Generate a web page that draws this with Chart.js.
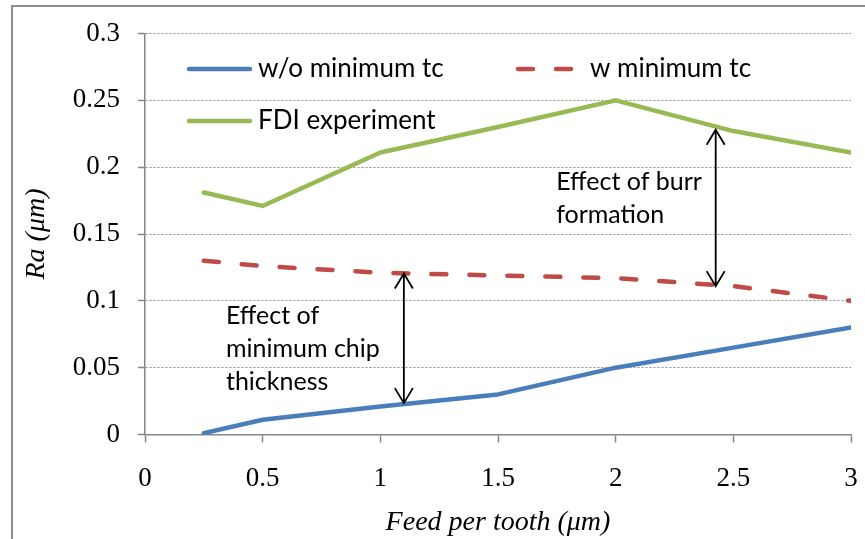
<!DOCTYPE html>
<html>
<head>
<meta charset="utf-8">
<script src="https://cdn.jsdelivr.net/npm/chart.js@4.4.0/dist/chart.umd.min.js"></script>
<style>
  html, body { margin: 0; padding: 0; background: #fff; }
  #wrap { width: 865px; height: 539px; position: relative; }
</style>
</head>
<body>
<div id="wrap"><canvas id="ra-chart" width="865" height="539"></canvas></div>
<script>
// Surface roughness Ra vs feed per tooth

const feedPerTooth = [0.25, 0.5, 1, 1.5, 2, 2.5, 3];
const raWithoutTc  = [0.001, 0.011, 0.021, 0.030, 0.050, 0.065, 0.080];
const raWithTc     = [0.130, 0.126, 0.121, 0.119, 0.117, 0.111, 0.100];
const raFdi        = [0.181, 0.171, 0.211, 0.230, 0.250, 0.227, 0.211];

const xTickValues = [0, 0.5, 1, 1.5, 2, 2.5, 3];
const xTickLabels = ["0", "0.5", "1", "1.5", "2", "2.5", "3"];
const yTickValues = [0, 0.05, 0.1, 0.15, 0.2, 0.25, 0.3];
const yTickLabels = ["0", "0.05", "0.1", "0.15", "0.2", "0.25", "0.3"];

const seriesNames = ["w/o minimum tc", "w minimum tc", "FDI experiment"];

// annotation arrows (data units): x, from y, to y
const arrows = [
    { x: 1.10, y1: 0.0235, y2: 0.1205 },
    { x: 2.425, y1: 0.111, y2: 0.228 }
];
const notes = [
    { x: 0.344, y: 0.0885, lines: ["Effect of", "minimum chip", "thickness"] },
    { x: 1.747, y: 0.189, lines: ["Effect of burr", "formation"] }
];

const SERIF = "'Liberation Serif', 'Times New Roman', serif";
const SANS = "Lato, 'Open Sans', sans-serif";
const AXIS_GREY = "#878787";

const data = (ys) => feedPerTooth.map((x, i) => ({ x, y: ys[i] }));

const datasets = [
    { label: seriesNames[0], data: data(raWithoutTc), borderColor: "#4a7ebb", borderWidth: 4.5 },
    { label: seriesNames[1], data: data(raWithTc), borderColor: "#be4b48", borderWidth: 4.5, borderDash: [15, 23] },
    { label: seriesNames[2], data: data(raFdi), borderColor: "#98b954", borderWidth: 4.5 }
].map(ds => ({ ...ds, pointRadius: 0, tension: 0, fill: false, borderCapStyle: "round", borderJoinStyle: "round" }));

// frame + legend + annotations
const decorPlugin = {
    id: "decor",
    beforeDraw(chart) {
        const ctx = chart.ctx;
        ctx.save();
        ctx.strokeStyle = "#8c8c8c";
        ctx.lineWidth = 2;
        ctx.beginPath();
        ctx.moveTo(12, 539);
        ctx.lineTo(12, 6);
        ctx.lineTo(865, 6);
        ctx.stroke();
        ctx.restore();
    },
    afterDatasetsDraw(chart) {
        const ctx = chart.ctx;
        const xs = chart.scales.x, ys = chart.scales.y;
        ctx.save();

        // legend
        const slots = [
            { x0: 187, x1: 252, tx: 258, y: 69 },
            { x0: 516, x1: 575, tx: 590, y: 69 },
            { x0: 187, x1: 252, tx: 258, y: 121 }
        ];
        chart.data.datasets.forEach((ds, i) => {
            const s = slots[i];
            ctx.strokeStyle = ds.borderColor;
            ctx.lineWidth = ds.borderWidth;
            ctx.lineCap = "round";
            ctx.setLineDash(ds.borderDash || []);
            ctx.beginPath();
            ctx.moveTo(s.x0 + 2, s.y);
            ctx.lineTo(s.x1 - 2, s.y);
            ctx.stroke();
            ctx.setLineDash([]);
            ctx.fillStyle = "#000";
            ctx.font = "26px " + SANS;
            ctx.textBaseline = "middle";
            ctx.textAlign = "left";
            ctx.fillText(ds.label, s.tx, s.y);
        });

        // arrows
        ctx.strokeStyle = "#000";
        ctx.lineWidth = 1.8;
        ctx.lineCap = "butt";
        arrows.forEach(a => {
            const px = xs.getPixelForValue(a.x);
            const yb = ys.getPixelForValue(a.y1);
            const yt = ys.getPixelForValue(a.y2);
            ctx.beginPath();
            ctx.moveTo(px, yb);
            ctx.lineTo(px, yt);
            ctx.moveTo(px - 9, yt + 15);
            ctx.lineTo(px, yt);
            ctx.lineTo(px + 9, yt + 15);
            ctx.moveTo(px - 9, yb - 15);
            ctx.lineTo(px, yb);
            ctx.lineTo(px + 9, yb - 15);
            ctx.stroke();
        });

        // notes
        ctx.fillStyle = "#000";
        ctx.font = "25px " + SANS;
        ctx.textAlign = "left";
        ctx.textBaseline = "middle";
        notes.forEach(n => {
            const px = xs.getPixelForValue(n.x);
            const py = ys.getPixelForValue(n.y);
            n.lines.forEach((t, k) => ctx.fillText(t, px, py + k * 33));
        });
        ctx.restore();
    }
};

new Chart(document.getElementById("ra-chart"), {
    type: "line",
    data: { datasets },
    plugins: [decorPlugin],
    options: {
        responsive: false,
        devicePixelRatio: 1,
        animation: false,
        layout: { padding: { left: 12, right: 14, top: 33.5, bottom: 0 } },
        plugins: { legend: { display: false }, tooltip: { enabled: false } },
        scales: {
            x: {
                type: "linear",
                min: 0,
                max: 3,
                afterBuildTicks: s => { s.ticks = xTickValues.map(v => ({ value: v })); },
                afterFit: s => { s.height = 104.5; s.paddingLeft = 0; s.paddingRight = 0; },
                ticks: {
                    callback: (v) => xTickLabels[xTickValues.indexOf(v)],
                    font: { family: SERIF, size: 27 },
                    color: "#000",
                    padding: 20,
                    maxRotation: 0
                },
                grid: { drawOnChartArea: false, drawTicks: true, tickLength: 8, color: AXIS_GREY, tickWidth: 1.5 },
                border: { color: AXIS_GREY, width: 1.5 },
                title: {
                    display: true,
                    text: "Feed per tooth (\u03bcm)",
                    font: { family: SERIF, size: 28, style: "italic" },
                    color: "#000",
                    padding: { top: 0, bottom: 0 }
                }
            },
            y: {
                type: "linear",
                min: 0,
                max: 0.3,
                afterBuildTicks: s => { s.ticks = yTickValues.map(v => ({ value: v })); },
                afterFit: s => { s.width = 133; s.paddingTop = 0; s.paddingBottom = 0; },
                ticks: {
                    callback: (v) => yTickLabels[yTickValues.indexOf(v)],
                    font: { family: SERIF, size: 27 },
                    color: "#000",
                    padding: 18
                },
                grid: { color: "#8e8e8e", lineWidth: 1, tickLength: 7, tickColor: AXIS_GREY, tickWidth: 1.5 },
                border: { color: AXIS_GREY, width: 1.5, dash: [2, 2] },
                title: {
                    display: true,
                    text: "Ra (\u03bcm)",
                    font: { family: SERIF, size: 28, style: "italic" },
                    color: "#000",
                    padding: { top: 8, bottom: 0 }
                }
            }
        }
    }
});
</script>
</body>
</html>
